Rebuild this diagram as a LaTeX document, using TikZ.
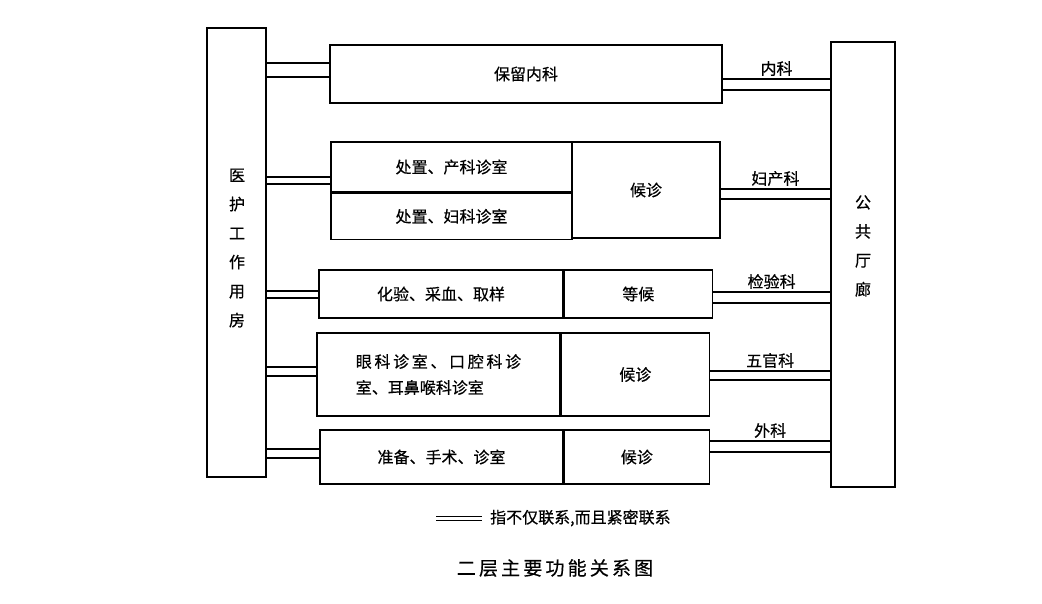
\documentclass[tikz,border=0pt]{standalone}
\usepackage{fontspec}
\setmainfont{Noto Sans CJK SC}[FakeBold=0.5]
\usepackage{tikz}
\usetikzlibrary{positioning}

\tikzset{
  room/.style={draw, line width=1.3pt, inner sep=0pt, font=\fontsize{16}{26}\selectfont},
  link/.style={line width=1.1pt},
  dept/.style={font=\fontsize{16}{18}\selectfont, inner sep=2.5pt}
}

\begin{document}
\begin{tikzpicture}[x=1pt, y=-1pt]
            \useasboundingbox[fill=white] (0,0) rectangle (1042,603);
            % side blocks
            \node[room, minimum width=59, minimum height=449] (lcol) at (236.5,252.5) {};
            \node[room, minimum width=64, minimum height=445] (rcol) at (863,264.5) {};
            \node[font=\fontsize{16}{29}\selectfont, align=center] (ltxt) at (237,248) {医\\护\\工\\作\\用\\房};
            \node[font=\fontsize{16}{29}\selectfont, align=center] (rtxt) at (863,246) {公\\共\\厅\\廊};
            % rooms
            \node[room, minimum width=392, minimum height=58] (nk) at (526,74) {保留内科};
            \node[room, minimum width=241, minimum height=50] (cz1) at (451.5,167) {处置、产科诊室};
            \node[room, minimum width=241, minimum height=46, below=0pt of cz1] (cz2) {处置、妇科诊室};
            \node[room, minimum width=148, minimum height=96] (hz1) at (646,190) {候诊};
            \node[room, minimum width=244, minimum height=48] (hy) at (441,294) {化验、采血、取样};
            \node[room, minimum width=148, minimum height=48, right=0pt of hy] (dh) {等候};
            \node[room, minimum width=243, minimum height=83, align=left] (yk) at (438.5,374.5)
                {眼\,科\,诊\,室\,、\,口\,腔\,科\,诊\\室、耳鼻喉科诊室};
            \node[room, minimum width=148, minimum height=83, right=0pt of yk] (hz2) {候诊};
            \node[room, minimum width=243, minimum height=54] (zb) at (441.5,457) {准备、手术、诊室};
            \node[room, minimum width=145, minimum height=54, right=0pt of zb] (hz3) {候诊};
            % links to the staff rooms
            \draw[link] (lcol.east |- 0,63) -- (nk.west |- 0,63);
            \draw[link] (lcol.east |- 0,77) -- (nk.west |- 0,77);
            \draw[link] (lcol.east |- 0,177) -- (cz1.west |- 0,177);
            \draw[link] (lcol.east |- 0,184) -- (cz1.west |- 0,184);
            \draw[link] (lcol.east |- 0,291) -- (hy.west |- 0,291);
            \draw[link] (lcol.east |- 0,298) -- (hy.west |- 0,298);
            \draw[link] (lcol.east |- 0,367) -- (yk.west |- 0,367);
            \draw[link] (lcol.east |- 0,376) -- (yk.west |- 0,376);
            \draw[link] (lcol.east |- 0,449) -- (zb.west |- 0,449);
            \draw[link] (lcol.east |- 0,458) -- (zb.west |- 0,458);
            % links to the hall
            \draw[link] (nk.east |- 0,79) -- node[dept, midway, above] (l1) {内科} (rcol.west |- 0,79);
            \draw[link] (nk.east |- 0,90) -- (rcol.west |- 0,90);
            \draw[link] (hz1.east |- 0,189) -- node[dept, midway, above] (l2) {妇产科} (rcol.west |- 0,189);
            \draw[link] (hz1.east |- 0,199) -- (rcol.west |- 0,199);
            \draw[link] (dh.east |- 0,292) -- node[dept, midway, above] (l3) {检验科} (rcol.west |- 0,292);
            \draw[link] (dh.east |- 0,303) -- (rcol.west |- 0,303);
            \draw[link] (hz2.east |- 0,371) -- node[dept, midway, above] (l4) {五官科} (rcol.west |- 0,371);
            \draw[link] (hz2.east |- 0,380) -- (rcol.west |- 0,380);
            \draw[link] (hz3.east |- 0,441) -- node[dept, midway, above] (l5) {外科} (rcol.west |- 0,441);
            \draw[link] (hz3.east |- 0,452) -- (rcol.west |- 0,452);
            % legend and title
            \coordinate (lg1) at (436,516);
            \coordinate (lg2) at (482,516);
            \draw[link, line width=0.8pt] (lg1) -- (lg2);
            \draw[link, line width=0.8pt] ([yshift=-4pt]lg1) -- ([yshift=-4pt]lg2);
            \node[font=\fontsize{16}{18}\selectfont, anchor=west, inner sep=0pt] (lgtxt) at (490,518) {指不仅联系,而且紧密联系};
            \node[font=\fontsize{19}{22}\selectfont] (title) at (555,568) {二\,层\,主\,要\,功\,能\,关\,系\,图};
        \end{tikzpicture}
\end{document}
